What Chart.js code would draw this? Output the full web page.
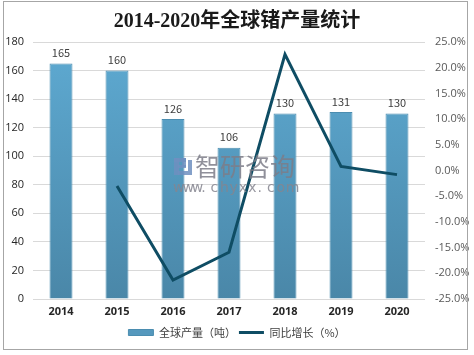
<!DOCTYPE html>
<html>
<head>
<meta charset="utf-8">
<script src="https://cdn.jsdelivr.net/npm/chart.js@4/dist/chart.umd.min.js"></script>
<style>
html,body{margin:0;padding:0;background:#fff;}
#wrap{position:relative;width:474px;height:355px;}
canvas{display:block;}
</style>
</head>
<body>
<div id="wrap"><canvas id="c" width="474" height="355"></canvas></div>
<script>
const categories = ['2014','2015','2016','2017','2018','2019','2020'];
const production = [165, 160, 126, 106, 130, 131, 130];
const growth = [null, -3.0, -21.3, -15.9, 22.6, 0.8, -0.8];
const leftTicks = [0, 20, 40, 60, 80, 100, 120, 140, 160, 180];
const rightTicks = [-25, -20, -15, -10, -5, 0, 5, 10, 15, 20, 25];
const titleText = '2014-2020年全球锗产量统计';
const seriesNames = ['全球产量（吨）', '同比增长（%）'];

const CJK = '"Noto Sans CJK SC", "Open Sans", sans-serif';

function barGradient(ctx) {
  const chart = ctx.chart;
  const area = chart.chartArea;
  if (!area) return '#5aa3c9';
  const g = chart.ctx.createLinearGradient(0, area.top, 0, area.bottom);
  g.addColorStop(0, '#5eaad2');
  g.addColorStop(1, '#4a87a8');
  return g;
}

const framePlugin = {
  id: 'frame',
  beforeDraw(chart) {
    const c = chart.ctx;
    c.save();
    c.fillStyle = '#fff';
    c.fillRect(0, 0, chart.width, chart.height);
    c.restore();
  },
  afterDraw(chart) {
    const c = chart.ctx;
    c.save();
    c.strokeStyle = '#a6a6a6';
    c.lineWidth = 1;
    c.strokeRect(3.5, 1.5, 464, 348);
    c.restore();
  }
};

const labelPlugin = {
  id: 'barLabels',
  afterDatasetsDraw(chart) {
    const c = chart.ctx;
    const meta = chart.getDatasetMeta(0);
    c.save();
    c.font = '11px ' + CJK;
    c.fillStyle = '#404040';
    c.textAlign = 'center';
    c.textBaseline = 'bottom';
    meta.data.forEach((bar, i) => {
      c.fillText(String(production[i]), bar.x, bar.y - 5);
    });
    c.restore();
  }
};

const watermarkPlugin = {
  id: 'watermark',
  afterDraw(chart) {
    const c = chart.ctx;
    c.save();
    c.globalAlpha = 0.85;
    c.fillStyle = '#6f8fc0';
    c.fillRect(174, 158, 5, 17);
    c.fillRect(174, 158, 12, 4);
    c.fillRect(182, 158, 4, 9);
    c.fillRect(178, 165, 8, 3);
    c.fillRect(188, 160, 4, 15);
    c.fillRect(178, 171, 10, 4);
    c.font = '25px "Noto Sans CJK SC", sans-serif';
    c.fillStyle = '#7d7d88';
    c.textBaseline = 'middle';
    c.textAlign = 'left';
    c.fillText('智研咨询', 195, 166);
    c.font = '14px "DejaVu Sans", sans-serif';
    c.fillStyle = '#85858f';
    const s = 'www.chyxx.com';
    let x = 173;
    for (const ch of s) {
      c.fillText(ch, x, 188);
      x += 9.4;
    }
    c.restore();
  }
};

new Chart(document.getElementById('c'), {
  data: {
    labels: categories,
    datasets: [
      {
        type: 'bar',
        label: seriesNames[0],
        data: production,
        yAxisID: 'y',
        backgroundColor: barGradient,
        borderColor: '#4b8db0',
        borderWidth: 1,
        barPercentage: 0.41,
        categoryPercentage: 1.0,
        order: 2
      },
      {
        type: 'line',
        label: seriesNames[1],
        data: growth,
        yAxisID: 'y1',
        borderColor: '#0f4d64',
        backgroundColor: '#0f4d64',
        borderWidth: 3,
        pointRadius: 0,
        tension: 0,
        spanGaps: false,
        order: 1
      }
    ]
  },
  options: {
    responsive: false,
    animation: false,
    devicePixelRatio: 1,
    layout: { padding: { left: 0, right: 0, top: 0, bottom: 7 } },
    plugins: {
      title: {
        display: true,
        text: titleText,
        color: '#1a1a1a',
        font: { family: '"Liberation Serif", "Noto Sans CJK SC", serif', size: 20, weight: 'bold' },
        padding: { top: 10, bottom: 8 }
      },
      legend: {
        position: 'bottom',
        labels: {
          color: '#404040',
          font: { family: CJK, size: 11 },
          boxWidth: 25,
          boxHeight: 6,
          padding: 3,
          usePointStyle: true,
          pointStyleWidth: 25,
          generateLabels(chart) {
            return [
              { text: seriesNames[0], fillStyle: '#5598bd', strokeStyle: '#4b8db0', lineWidth: 1, pointStyle: 'rect', datasetIndex: 0, fontColor: '#404040' },
              { text: seriesNames[1], fillStyle: '#0f4d64', strokeStyle: '#0f4d64', lineWidth: 3, pointStyle: 'line', datasetIndex: 1, fontColor: '#404040' }
            ];
          }
        }
      },
      tooltip: { enabled: false }
    },
    scales: {
      x: {
        grid: { display: false },
        border: { display: false },
        ticks: { color: '#262626', font: { family: '"Open Sans", sans-serif', size: 11, weight: 'bold' }, padding: -2 },
        afterFit(scale) { scale.height = 25; }
      },
      y: {
        position: 'left',
        min: 0, max: 180,
        afterBuildTicks(scale) { scale.ticks = leftTicks.map(v => ({ value: v })); },
        grid: { color: '#d9d9d9', drawTicks: false },
        border: { display: false },
        ticks: { color: '#262626', font: { family: '"Open Sans", sans-serif', size: 11 }, padding: 9 },
        afterFit(scale) { scale.width = 33; }
      },
      y1: {
        position: 'right',
        min: -25, max: 25,
        afterBuildTicks(scale) { scale.ticks = rightTicks.map(v => ({ value: v })); },
        grid: { display: false, drawTicks: false },
        border: { display: false },
        ticks: { color: '#595959', font: { family: '"Open Sans", sans-serif', size: 11 }, padding: 10,
          callback: v => Number(v).toFixed(1) + '%' },
        afterFit(scale) { scale.width = 49; }
      }
    }
  },
  plugins: [framePlugin, labelPlugin, watermarkPlugin]
});
</script>
</body>
</html>
